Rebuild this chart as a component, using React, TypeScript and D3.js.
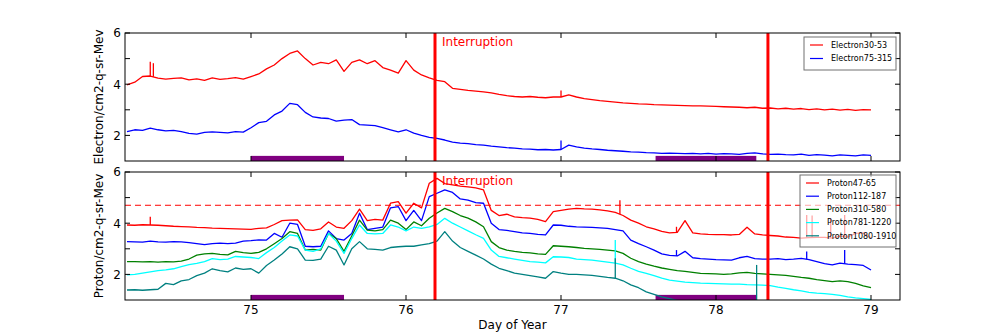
import React from 'react';
import * as d3 from 'd3';

// Day of year sample times (0.05 day spacing)
const days = [
  74.20, 74.25, 74.30, 74.35, 74.40, 74.45, 74.50, 74.55, 74.60, 74.65,
  74.70, 74.75, 74.80, 74.85, 74.90, 74.95, 75.00, 75.05, 75.10, 75.15,
  75.20, 75.25, 75.30, 75.35, 75.40, 75.45, 75.50, 75.55, 75.60, 75.65,
  75.70, 75.75, 75.80, 75.85, 75.90, 75.95, 76.00, 76.05, 76.10, 76.15,
  76.20, 76.25, 76.30, 76.35, 76.40, 76.45, 76.50, 76.55, 76.60, 76.65,
  76.70, 76.75, 76.80, 76.85, 76.90, 76.95, 77.00, 77.05, 77.10, 77.15,
  77.20, 77.25, 77.30, 77.35, 77.40, 77.45, 77.50, 77.55, 77.60, 77.65,
  77.70, 77.75, 77.80, 77.85, 77.90, 77.95, 78.00, 78.05, 78.10, 78.15,
  78.20, 78.25, 78.30, 78.35, 78.40, 78.45, 78.50, 78.55, 78.60, 78.65,
  78.70, 78.75, 78.80, 78.85, 78.90, 78.95, 79.00,
];

const electron30_53 = [
  3.97, 4.08, 4.30, 4.32, 4.24, 4.20, 4.23, 4.25, 4.17, 4.21,
  4.15, 4.25, 4.19, 4.22, 4.26, 4.20, 4.30, 4.40, 4.60, 4.75,
  5.00, 5.20, 5.30, 5.00, 4.75, 4.85, 4.80, 4.95, 4.50, 4.85,
  4.95, 4.80, 4.92, 4.65, 4.55, 4.43, 4.92, 4.55, 4.36, 4.25,
  4.15, 4.10, 3.84, 3.80, 3.76, 3.73, 3.70, 3.66, 3.60, 3.55,
  3.52, 3.50, 3.52, 3.49, 3.47, 3.50, 3.50, 3.58, 3.50, 3.44,
  3.40, 3.36, 3.33, 3.30, 3.27, 3.25, 3.23, 3.22, 3.20, 3.19,
  3.18, 3.17, 3.16, 3.15, 3.15, 3.14, 3.13, 3.12, 3.11, 3.10,
  3.08, 3.10, 3.06, 3.07, 3.04, 3.06, 3.03, 3.05, 3.01, 3.04,
  3.00, 3.03, 2.99, 3.02, 2.98, 3.01, 3.00,
];

const electron75_315 = [
  2.15, 2.22, 2.20, 2.28, 2.22, 2.18, 2.20, 2.15, 2.08, 2.05,
  2.12, 2.14, 2.12, 2.10, 2.15, 2.13, 2.30, 2.50, 2.55, 2.80,
  2.95, 3.25, 3.20, 2.90, 2.72, 2.68, 2.66, 2.56, 2.60, 2.62,
  2.42, 2.40, 2.38, 2.30, 2.22, 2.14, 2.22, 2.09, 2.00, 1.92,
  1.88, 1.82, 1.74, 1.70, 1.68, 1.64, 1.62, 1.58, 1.55, 1.52,
  1.50, 1.47, 1.46, 1.44, 1.45, 1.43, 1.45, 1.62, 1.55, 1.50,
  1.47, 1.45, 1.42, 1.40, 1.38, 1.36, 1.35, 1.33, 1.32, 1.30,
  1.31, 1.30, 1.29, 1.30, 1.28, 1.30, 1.27, 1.29, 1.28, 1.26,
  1.30, 1.32, 1.28, 1.26, 1.27, 1.25, 1.24, 1.27, 1.22, 1.25,
  1.23, 1.20, 1.24, 1.22, 1.20, 1.24, 1.22,
];

const proton47_65 = [
  3.93, 3.92, 3.94, 3.93, 3.92, 3.90, 3.88, 3.87, 3.86, 3.84,
  3.83, 3.81, 3.80, 3.79, 3.78, 3.77, 3.76, 3.80, 3.82, 3.95,
  4.10, 4.12, 4.13, 3.75, 3.72, 3.78, 4.05, 3.85, 3.80, 4.10,
  4.55, 4.10, 4.15, 4.12, 4.78, 4.84, 4.39, 4.78, 4.60, 5.56,
  5.75, 5.55, 5.50, 5.45, 5.42, 5.38, 5.30, 4.50, 4.30, 4.35,
  4.25, 4.22, 4.20, 4.15, 4.06, 4.45, 4.50, 4.55, 4.58, 4.56,
  4.55, 4.52, 4.48, 4.42, 4.30, 4.12, 4.00, 3.86, 3.78, 3.68,
  3.62, 3.64, 4.10, 3.62, 3.58, 3.56, 3.55, 3.55, 3.54, 3.56,
  3.84, 3.58, 3.54, 3.52, 3.50, 3.46, 3.45, 3.42, 3.44, 3.45,
  3.45, 3.42, 3.50, 3.46, 3.60, 3.62, 3.42,
];

const proton112_187 = [
  3.28, 3.27, 3.26, 3.30, 3.27, 3.26, 3.28, 3.27, 3.24, 3.20,
  3.16, 3.20, 3.22, 3.20, 3.22, 3.30, 3.32, 3.35, 3.34, 3.60,
  3.45, 4.00, 3.95, 3.10, 3.08, 3.10, 3.70, 3.40, 3.34, 3.60,
  4.39, 3.75, 3.80, 3.85, 4.60, 4.65, 4.10, 4.50, 4.10, 5.04,
  5.17, 5.30, 5.20, 4.95, 4.90, 4.80, 4.78, 4.00, 3.75, 3.72,
  3.67, 3.62, 3.60, 3.56, 3.54, 3.93, 3.92, 3.88, 3.86, 3.85,
  3.84, 3.82, 3.80, 3.75, 3.70, 3.34, 3.20, 3.08, 2.95, 2.80,
  2.74, 2.72, 2.90, 2.65, 2.62, 2.60, 2.58, 2.57, 2.56, 2.65,
  2.70, 2.62, 2.60, 2.60, 2.62, 2.58, 2.60, 2.63, 2.58, 2.50,
  2.42, 2.37, 2.44, 2.40, 2.38, 2.35, 2.17,
];

const proton310_580 = [
  2.50, 2.50, 2.49, 2.50, 2.48, 2.50, 2.49, 2.52, 2.60, 2.75,
  2.80, 2.82, 2.78, 2.76, 2.90, 2.85, 2.82, 2.86, 3.00, 3.20,
  3.40, 3.67, 3.60, 2.95, 2.98, 2.95, 3.60, 3.40, 2.90, 3.50,
  4.12, 3.73, 3.70, 3.75, 4.12, 4.00, 3.75, 4.05, 3.90, 4.19,
  4.40, 4.58, 4.45, 4.30, 4.20, 4.05, 3.86, 3.28, 3.05, 2.95,
  2.90, 2.86, 2.84, 2.80, 2.78, 3.12, 3.10, 3.08, 3.05, 3.02,
  3.00, 2.98, 2.95, 2.92, 2.82, 2.63, 2.50, 2.40, 2.32, 2.25,
  2.20, 2.15, 2.12, 2.08, 2.04, 2.03, 2.02, 2.00, 2.02, 2.06,
  2.08, 2.04, 2.02, 2.00, 1.98, 1.96, 1.92, 1.88, 1.85, 1.80,
  1.76, 1.72, 1.75, 1.72, 1.65, 1.55, 1.48,
];

const proton781_1220 = [
  1.98, 2.00, 2.05, 2.10, 2.15, 2.18, 2.22, 2.30, 2.38, 2.43,
  2.50, 2.62, 2.58, 2.60, 2.70, 2.68, 2.66, 2.62, 2.85, 3.05,
  3.30, 3.54, 3.50, 2.95, 2.90, 3.00, 3.60, 3.30, 2.82, 3.40,
  3.93, 3.60, 3.58, 3.60, 3.93, 3.85, 3.70, 3.85, 3.80, 3.86,
  3.95, 4.19, 4.00, 3.85, 3.70, 3.55, 3.41, 2.95, 2.70, 2.65,
  2.60, 2.55, 2.50, 2.48, 2.45, 2.69, 2.68, 2.66, 2.60, 2.58,
  2.56, 2.52, 2.48, 2.44, 2.37, 2.24, 2.12, 2.04, 1.95, 1.85,
  1.78, 1.74, 1.70, 1.68, 1.66, 1.65, 1.64, 1.63, 1.62, 1.62,
  1.60, 1.59, 1.58, 1.56, 1.50, 1.45, 1.40, 1.36, 1.30, 1.27,
  1.25, 1.22, 1.18, 1.12, 1.08, 1.05, 1.02,
];

const proton1080_1910 = [
  1.39, 1.40, 1.38, 1.40, 1.42, 1.65, 1.60, 1.75, 1.80, 1.95,
  2.05, 2.22, 2.15, 2.10, 2.25, 2.20, 2.22, 2.05, 2.35, 2.56,
  2.80, 3.08, 3.00, 2.56, 2.55, 2.60, 3.10, 2.95, 2.37, 3.00,
  3.28, 3.00, 2.98, 2.95, 3.05, 3.08, 3.10, 3.10, 3.15, 3.20,
  3.30, 3.67, 3.30, 3.05, 2.90, 2.75, 2.60, 2.40, 2.24, 2.15,
  2.05, 2.00, 1.95, 1.90, 1.85, 2.11, 2.05, 2.00, 2.00, 1.98,
  1.96, 1.92, 1.88, 1.85, 1.75, 1.59, 1.48, 1.32, 1.22, 1.12,
  1.05, 0.98, 0.95, 0.92, 0.90, 0.88, 0.86, 0.85, 0.84, 0.83,
  0.82, 0.81, 0.80, 0.78, 0.76, 0.74, 0.72, 0.70, 0.68, 0.66,
  0.65, 0.64, 0.62, 0.61, 0.60, 0.59, 0.58,
];

// Short one-sample spikes (day of spike, peak value) per series
const electron30_53SpikeDays = [74.35, 74.37, 77.0];
const electron30_53SpikePeaks = [4.88, 4.82, 3.75];
const electron75_315SpikeDays = [77.0];
const electron75_315SpikePeaks = [1.8];
const proton47_65SpikeDays = [74.35, 77.38, 77.745, 78.585, 78.62, 78.74, 78.83];
const proton47_65SpikePeaks = [4.25, 4.9, 3.86, 4.32, 4.3, 4.19, 4.32];
const proton112_187SpikeDays = [77.745, 78.585, 78.83];
const proton112_187SpikePeaks = [2.95, 2.89, 2.95];
const proton310_580SpikeDays: number[] = [];
const proton310_580SpikePeaks: number[] = [];
const proton781_1220SpikeDays = [77.35];
const proton781_1220SpikePeaks = [3.34];
const proton1080_1910SpikeDays = [77.35, 78.262];
const proton1080_1910SpikePeaks = [2.63, 2.37];

const electronLabels = ['Electron30-53', 'Electron75-315'];
const electronColors = ['#ff0000', '#0000ff'];
const protonLabels = ['Proton47-65', 'Proton112-187', 'Proton310-580', 'Proton781-1220', 'Proton1080-1910'];
const protonColors = ['#ff0000', '#0000ff', '#008000', '#00ffff', '#008080'];

const xDomain = [74.187, 79.187];
const yDomain = [1, 6];
const xTicks = [75, 76, 77, 78, 79];
const yTicks = [2, 3, 4, 5, 6];
const yTickLabels = [2, 4, 6];
const interruptionDays = [76.187, 78.335];
const coverageStart = [75.0, 77.61];
const coverageEnd = [75.6, 78.26];
const coverageLevel = [1.0, 1.2];
const protonThreshold = 4.7;

const FONT = 'DejaVu Sans, Liberation Sans, sans-serif';
const LEFT = 125;
const RIGHT = 900;

function valueAt(series: number[], day: number) {
  const i = d3.bisectLeft(days, day);
  if (i <= 0) return series[0];
  if (i >= days.length) return series[series.length - 1];
  const d0 = days[i - 1], d1 = days[i];
  const t = (day - d0) / (d1 - d0);
  return series[i - 1] + (series[i] - series[i - 1]) * t;
}

function Panel({ top, bottom, series, spikeDays, spikePeaks, labels, colors, showXLabels, threshold, legend, id }) {
  const x = d3.scaleLinear().domain(xDomain).range([LEFT, RIGHT]);
  const y = d3.scaleLinear().domain(yDomain).range([bottom, top]);
  const line = d3.line<number>().x((_, i) => x(days[i])).y((d) => y(d));
  const tickLen = 5;
  return (
    <g>
      <defs>
        <clipPath id={id}>
          <rect x={LEFT} y={top} width={RIGHT - LEFT} height={bottom - top} />
        </clipPath>
      </defs>
      <g clipPath={`url(#${id})`}>
        {coverageStart.map((s, i) => (
          <rect key={i} x={x(s)} y={y(coverageLevel[1])} width={x(coverageEnd[i]) - x(s)}
            height={y(coverageLevel[0]) - y(coverageLevel[1])} fill="#800080" />
        ))}
        {series.map((s, i) => (
          <g key={i}>
            <path d={line(s) || ''} fill="none" stroke={colors[i]} strokeWidth={1.3} strokeLinejoin="round" />
            {spikeDays[i].map((sd, j) => (
              <line key={j} x1={x(sd)} x2={x(sd)} y1={y(valueAt(s, sd))} y2={y(spikePeaks[i][j])}
                stroke={colors[i]} strokeWidth={1.3} />
            ))}
          </g>
        ))}
        {threshold !== undefined && (
          <line x1={LEFT} x2={RIGHT} y1={y(threshold)} y2={y(threshold)} stroke="#ff0000" strokeWidth={1} strokeDasharray="6,4" />
        )}
        {interruptionDays.map((d, i) => (
          <line key={i} x1={x(d)} x2={x(d)} y1={top} y2={bottom} stroke="#ff0000" strokeWidth={3} />
        ))}
      </g>
      <text x={x(interruptionDays[0]) + 7} y={top + 13} fill="#ff0000" fontFamily={FONT} fontSize={12}>Interruption</text>
      <rect x={LEFT} y={top} width={RIGHT - LEFT} height={bottom - top} fill="none" stroke="#000" strokeWidth={1} />
      {xTicks.map((t) => (
        <g key={t}>
          <line x1={x(t)} x2={x(t)} y1={bottom} y2={bottom - tickLen} stroke="#000" />
          <line x1={x(t)} x2={x(t)} y1={top} y2={top + tickLen} stroke="#000" />
          {showXLabels && (
            <text x={x(t)} y={bottom + 13.5} textAnchor="middle" fontFamily={FONT} fontSize={12}>{t}</text>
          )}
        </g>
      ))}
      {yTicks.map((t) => (
        <g key={t}>
          <line x1={LEFT} x2={LEFT + tickLen} y1={y(t)} y2={y(t)} stroke="#000" />
          <line x1={RIGHT} x2={RIGHT - tickLen} y1={y(t)} y2={y(t)} stroke="#000" />
        </g>
      ))}
      {yTickLabels.map((t) => (
        <text key={t} x={LEFT - 4} y={y(t)} dy="0.36em" textAnchor="end" fontFamily={FONT} fontSize={12}>{t}</text>
      ))}
      <g>
        <rect x={legend.x} y={legend.y} width={legend.w} height={legend.rowH * labels.length + 6}
          fill="#ffffff" fillOpacity={0.65} stroke="#707070" strokeWidth={1} />
        {labels.map((l, i) => {
          const ry = legend.y + 8 + i * legend.rowH;
          return (
            <g key={l}>
              <line x1={legend.x + 6} x2={legend.x + 19} y1={ry} y2={ry} stroke={colors[i]} strokeWidth={1.2} />
              <text x={legend.x + 27} y={ry} dy="0.35em" fontFamily={FONT} fontSize={8} fill="#000">{l}</text>
            </g>
          );
        })}
      </g>
    </g>
  );
}

export default function App() {
  const electronSeries = [electron30_53, electron75_315];
  const electronSpikeDays = [electron30_53SpikeDays, electron75_315SpikeDays];
  const electronSpikePeaks = [electron30_53SpikePeaks, electron75_315SpikePeaks];
  const protonSeries = [proton47_65, proton112_187, proton310_580, proton781_1220, proton1080_1910];
  const protonSpikeDays = [proton47_65SpikeDays, proton112_187SpikeDays, proton310_580SpikeDays, proton781_1220SpikeDays, proton1080_1910SpikeDays];
  const protonSpikePeaks = [proton47_65SpikePeaks, proton112_187SpikePeaks, proton310_580SpikePeaks, proton781_1220SpikePeaks, proton1080_1910SpikePeaks];
  return (
    <svg width={1000} height={333} style={{ position: 'absolute', left: 0, top: 0, background: '#fff' }}>
      <rect x={0} y={0} width={1000} height={333} fill="#fff" />
      <Panel id="clipE" top={33} bottom={161} series={electronSeries} spikeDays={electronSpikeDays} spikePeaks={electronSpikePeaks}
        labels={electronLabels} colors={electronColors}
        showXLabels={false} threshold={undefined} legend={{ x: 804, y: 37, w: 92, rowH: 13.5 }} />
      <Panel id="clipP" top={172} bottom={300} series={protonSeries} spikeDays={protonSpikeDays} spikePeaks={protonSpikePeaks}
        labels={protonLabels} colors={protonColors}
        showXLabels={true} threshold={protonThreshold} legend={{ x: 800, y: 175, w: 96, rowH: 13.2 }} />
      <text transform="translate(103,97) rotate(-90)" textAnchor="middle" fontFamily={FONT} fontSize={12}>Electron/cm2-q-sr-Mev</text>
      <text transform="translate(103,236) rotate(-90)" textAnchor="middle" fontFamily={FONT} fontSize={12}>Proton/cm2-q-sr-Mev</text>
      <text x={512.5} y={329} textAnchor="middle" fontFamily={FONT} fontSize={12}>Day of Year</text>
    </svg>
  );
}
